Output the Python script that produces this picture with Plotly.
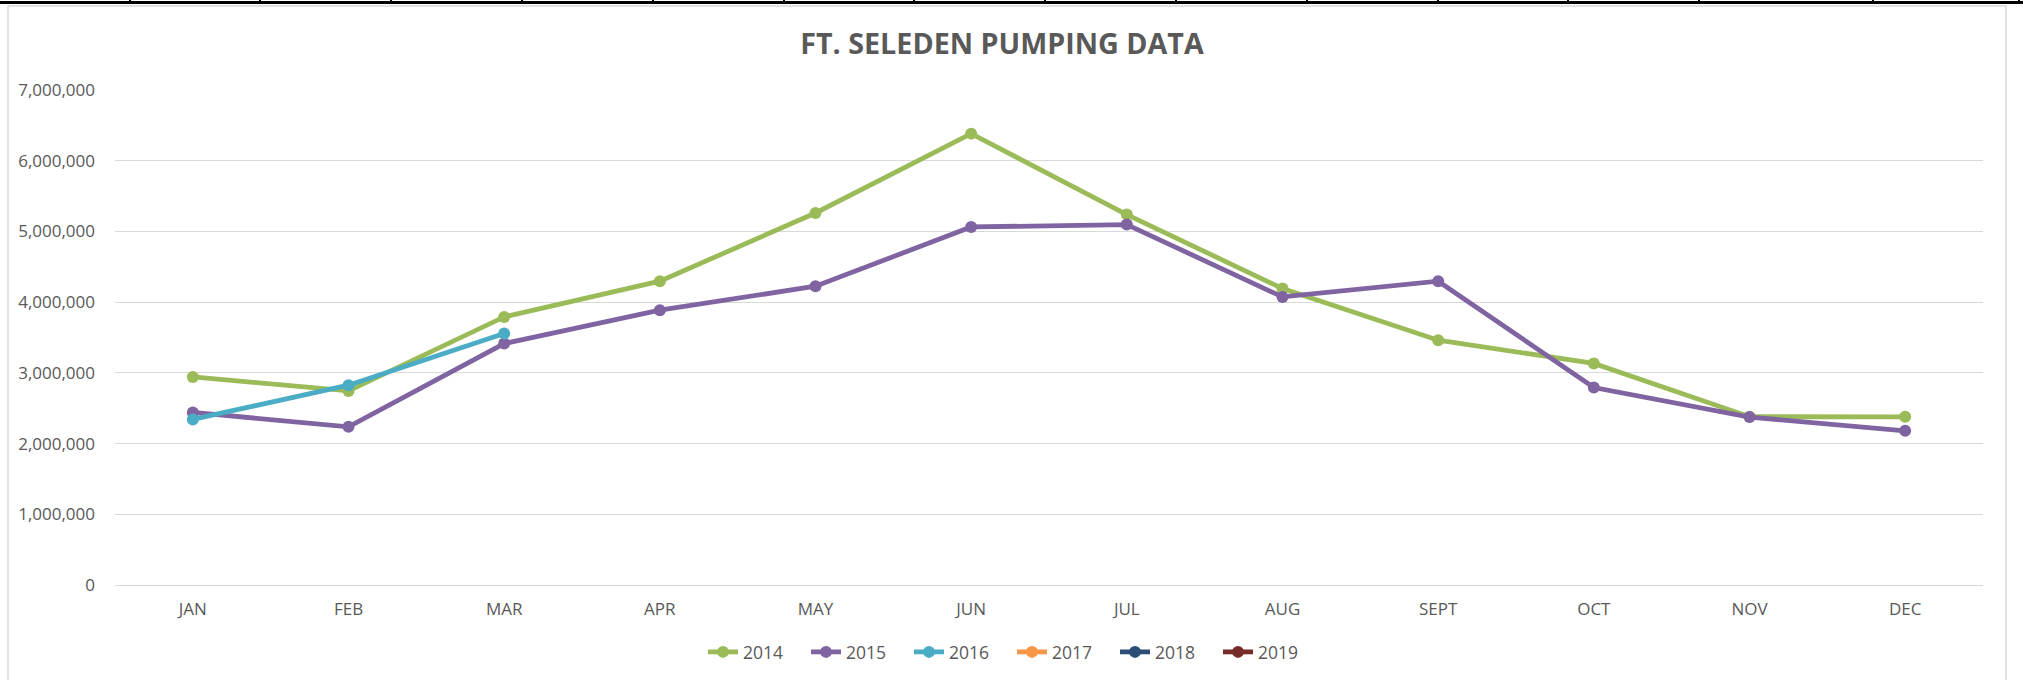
import plotly.graph_objects as go

# ---- data ----
months = ["JAN", "FEB", "MAR", "APR", "MAY", "JUN", "JUL", "AUG", "SEPT", "OCT", "NOV", "DEC"]
y2014 = [2943000, 2745000, 3791000, 4296000, 5261000, 6383000, 5238000, 4192000, 3462000, 3133000, 2380000, 2378000]
y2015 = [2440000, 2237000, 3415000, 3886000, 4225000, 5063000, 5097000, 4074000, 4296000, 2793000, 2375000, 2180000]
y2016 = [2341000, 2826000, 3557000, None, None, None, None, None, None, None, None, None]
y2017 = [None] * 12
y2018 = [None] * 12
y2019 = [None] * 12

series_names = ["2014", "2015", "2016", "2017", "2018", "2019"]
series_values = [y2014, y2015, y2016, y2017, y2018, y2019]
series_colors = ["#9BBB59", "#8064A2", "#4BACC6", "#F79646", "#2C4D75", "#772C2A"]

y_ticks = [0, 1000000, 2000000, 3000000, 4000000, 5000000, 6000000, 7000000]

W, H = 2023, 680
ML, MR, MT, MB = 115, 40, 90, 95
PW, PH = W - ML - MR, H - MT - MB

def px_x(px):
    return (px - ML) / PW

def px_y(py):
    return (H - MB - py) / PH

TXT = "#595959"
FONT = "Open Sans"

fig = go.Figure()
for name, vals, col in zip(series_names, series_values, series_colors):
    fig.add_trace(go.Scatter(
        x=months, y=vals, name=name, mode="lines+markers",
        line=dict(color=col, width=4.8),
        marker=dict(color=col, size=12),
        connectgaps=False,
    ))

shapes = []
# chart border
shapes.append(dict(type="rect", xref="paper", yref="paper",
                   x0=px_x(8), x1=px_x(2006), y0=px_y(720), y1=px_y(6),
                   line=dict(color="#D9D9D9", width=1.5), fillcolor="rgba(0,0,0,0)", layer="below"))
# spreadsheet cell border line at top
shapes.append(dict(type="line", xref="paper", yref="paper",
                   x0=px_x(0), x1=px_x(W), y0=px_y(2.5), y1=px_y(2.5),
                   line=dict(color="#000000", width=3)))
for cx in [130, 260, 391, 522, 653, 784, 914, 1045, 1176, 1307, 1438, 1568, 1699, 1873, 2019]:
    shapes.append(dict(type="line", xref="paper", yref="paper",
                       x0=px_x(cx), x1=px_x(cx), y0=px_y(0), y1=px_y(4),
                       line=dict(color="#000000", width=2)))

fig.update_layout(
    width=W, height=H,
    margin=dict(l=ML, r=MR, t=MT, b=MB, pad=0),
    paper_bgcolor="white", plot_bgcolor="white",
    font=dict(family=FONT, size=17, color=TXT),
    title=dict(text="<b>FT. SELEDEN PUMPING DATA</b>", x=1002 / W, xref="container",
               y=1 - 44 / H, yref="container", xanchor="center", yanchor="middle",
               font=dict(family=FONT, size=28.7, color=TXT)),
    xaxis=dict(type="category", range=[-0.5, 11.5], showgrid=False, showline=False,
               zeroline=False, ticks="", tickfont=dict(size=17, color=TXT),
               ticklabelstandoff=12, fixedrange=True),
    yaxis=dict(range=[0, 7000000], tickvals=y_ticks, tickformat=",", showgrid=True,
               gridcolor="#D9D9D9", gridwidth=1.3, zeroline=True, zerolinecolor="#D9D9D9",
               zerolinewidth=1.3, showline=False, ticks="",
               tickfont=dict(size=17, color=TXT), ticklabelstandoff=19),
    legend=dict(orientation="h", xref="container", yref="container",
                x=1012 / W, y=1 - 652 / H, xanchor="center", yanchor="middle",
                font=dict(size=17.5, color=TXT), itemwidth=30, entrywidth=58,
                entrywidthmode="pixels", bgcolor="rgba(0,0,0,0)"),
    shapes=shapes,
    showlegend=True,
)

fig.write_html("out.html", config={"displayModeBar": False},
               post_script="document.body.style.margin='0px';document.body.style.overflow='hidden';")
